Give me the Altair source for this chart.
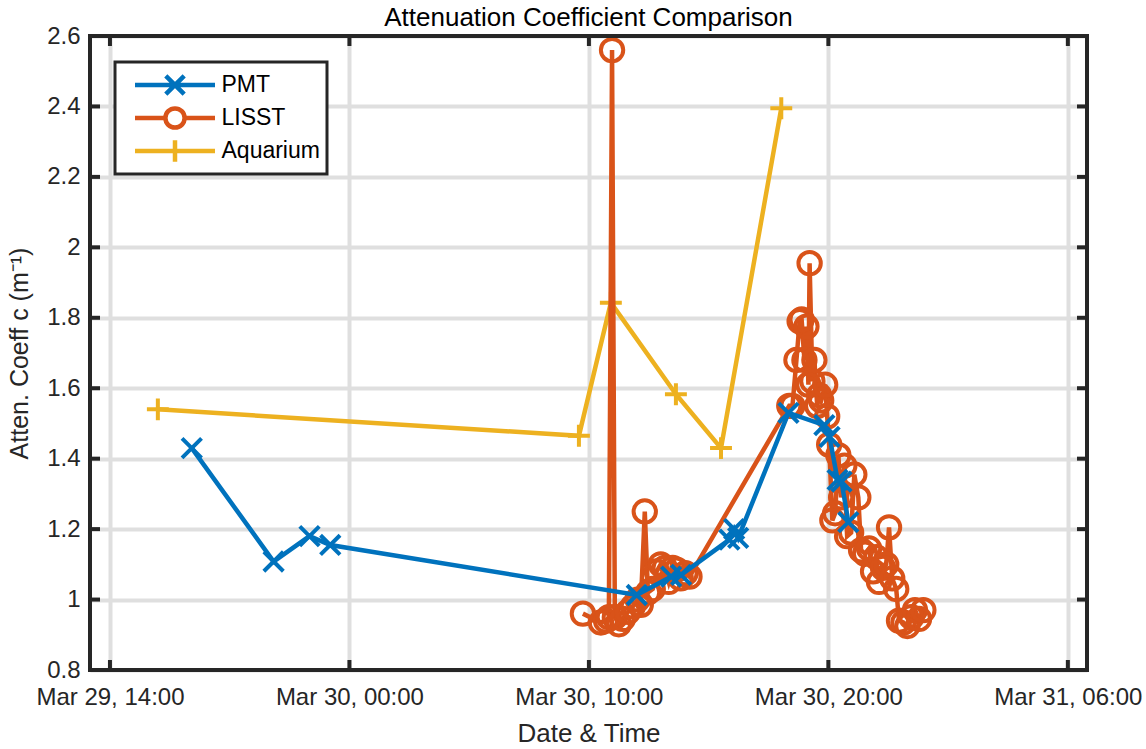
import altair as alt
import pandas as pd

# ---------------- data ----------------
pmt_time = [
    "2021-03-29T17:25", "2021-03-29T20:50", "2021-03-29T22:20", "2021-03-29T23:12",
    "2021-03-30T12:00", "2021-03-30T13:26", "2021-03-30T13:51",
    "2021-03-30T15:52", "2021-03-30T16:04", "2021-03-30T16:14",
    "2021-03-30T18:20", "2021-03-30T19:50", "2021-03-30T20:03",
    "2021-03-30T20:23", "2021-03-30T20:33", "2021-03-30T20:50",
]
pmt_value = [1.43, 1.108, 1.18, 1.155,
             1.013, 1.065, 1.07,
             1.17, 1.20, 1.175,
             1.53, 1.495, 1.462,
             1.34, 1.335, 1.22]

lisst_time = [
    "2021-03-30T09:45", "2021-03-30T10:30", "2021-03-30T10:43", "2021-03-30T10:50",
    "2021-03-30T10:58", "2021-03-30T11:05", "2021-03-30T11:15", "2021-03-30T11:25",
    "2021-03-30T11:38", "2021-03-30T11:50", "2021-03-30T12:02", "2021-03-30T12:10",
    "2021-03-30T12:20", "2021-03-30T12:28", "2021-03-30T12:40", "2021-03-30T12:50",
    "2021-03-30T13:00", "2021-03-30T13:10", "2021-03-30T13:20", "2021-03-30T13:30",
    "2021-03-30T13:40", "2021-03-30T13:50", "2021-03-30T14:02", "2021-03-30T14:12",
    "2021-03-30T18:22", "2021-03-30T18:30", "2021-03-30T18:40", "2021-03-30T18:48",
    "2021-03-30T18:53", "2021-03-30T19:00", "2021-03-30T19:05", "2021-03-30T19:10",
    "2021-03-30T19:13", "2021-03-30T19:20", "2021-03-30T19:25", "2021-03-30T19:32",
    "2021-03-30T19:37", "2021-03-30T19:42", "2021-03-30T19:52", "2021-03-30T19:57",
    "2021-03-30T20:02", "2021-03-30T20:10", "2021-03-30T20:17", "2021-03-30T20:25",
    "2021-03-30T20:32", "2021-03-30T20:40", "2021-03-30T20:47", "2021-03-30T20:57",
    "2021-03-30T21:05", "2021-03-30T21:15", "2021-03-30T21:22", "2021-03-30T21:32",
    "2021-03-30T21:42", "2021-03-30T21:52", "2021-03-30T22:00", "2021-03-30T22:07",
    "2021-03-30T22:17", "2021-03-30T22:25", "2021-03-30T22:32", "2021-03-30T22:40",
    "2021-03-30T22:50", "2021-03-30T22:57", "2021-03-30T23:08", "2021-03-30T23:18",
    "2021-03-30T23:28", "2021-03-30T23:37", "2021-03-30T23:47", "2021-03-30T23:58",
]
lisst_value = [
    0.96, 0.935, 0.94, 0.95,
    2.56, 0.95, 0.93, 0.945,
    0.965, 0.98, 1.00, 0.985,
    1.25, 1.02, 1.03, 1.08,
    1.10, 1.09, 1.05, 1.09,
    1.085, 1.06, 1.075, 1.065,
    1.55, 1.55, 1.68, 1.79,
    1.795, 1.68, 1.775, 1.61,
    1.955, 1.62, 1.68, 1.55,
    1.58, 1.565, 1.61, 1.52,
    1.44, 1.225, 1.245, 1.41,
    1.29, 1.38, 1.18, 1.19,
    1.355, 1.29, 1.14, 1.13,
    1.145, 1.08, 1.12, 1.05,
    1.09, 1.10, 1.205, 1.06,
    1.03, 0.94, 0.935, 0.925,
    0.95, 0.97, 0.945, 0.97,
]

aqua_time = ["2021-03-29T16:00", "2021-03-30T09:35", "2021-03-30T10:55",
             "2021-03-30T13:38", "2021-03-30T15:31", "2021-03-30T18:02"]
aqua_value = [1.54, 1.465, 1.843, 1.583, 1.43, 2.395]

series_names = ["PMT", "LISST", "Aquarium"]
series_colors = ["#0072BD", "#D95319", "#EDB120"]

y_ticks = [0.8, 1.0, 1.2, 1.4, 1.6, 1.8, 2.0, 2.2, 2.4, 2.6]
x_tick_times = ["2021-03-29T14:00", "2021-03-30T00:00", "2021-03-30T10:00",
                "2021-03-30T20:00", "2021-03-31T06:00"]

# ---------------- layout ----------------
W, H = 997, 634
FONT = "Liberation Sans"
TXT = "#262626"


def utc(s):
    return s + ":00Z"


def dt(s):
    d, t = s.split("T")
    y, mo, da = [int(v) for v in d.split("-")]
    hh, mm = [int(v) for v in t.split(":")]
    return alt.DateTime(year=y, month=mo, date=da, hours=hh, minutes=mm, utc=True)


frames = []
for name, ts, vs in [("PMT", pmt_time, pmt_value), ("LISST", lisst_time, lisst_value),
                     ("Aquarium", aqua_time, aqua_value)]:
    frames.append(pd.DataFrame({"time": [utc(t) for t in ts], "value": vs, "series": name}))
df = pd.concat(frames, ignore_index=True)

x_scale = alt.Scale(type="utc", domain=[dt("2021-03-29T13:10"), dt("2021-03-31T06:48")], nice=False)
y_scale = alt.Scale(domain=[0.8, 2.6], nice=False, zero=False)

x_axis = alt.Axis(values=[dt(t) for t in x_tick_times], format="%b %d, %H:%M",
                  title="Date & Time", grid=True, gridColor="#dfdfdf", gridWidth=4,
                  ticks=False, tickSize=0, domain=False, labelFontSize=24, labelColor=TXT,
                  labelFont=FONT, labelPadding=15, labelFlush=False,
                  titleFont=FONT, titleFontSize=26, titleFontWeight="normal", titleColor=TXT,
                  titlePadding=11)
y_axis = alt.Axis(values=y_ticks, format="~g", title="Atten. Coeff c (m\u207b\u00b9)",
                  grid=True, gridColor="#dfdfdf", gridWidth=4,
                  ticks=False, tickSize=0, domain=False, labelFontSize=24, labelColor=TXT,
                  labelFont=FONT, labelPadding=10,
                  titleFont=FONT, titleFontSize=25, titleFontWeight="normal", titleColor=TXT,
                  titlePadding=14)

X = alt.X("time:T", scale=x_scale, axis=x_axis)
Y = alt.Y("value:Q", scale=y_scale, axis=y_axis)

shape_paths = {
    "PMT": "M-1,-1L1,1M-1,1L1,-1",
    "LISST": "circle",
    "Aquarium": "M-1,0H1M0,-1V1",
}
shape_sizes = {"PMT": 380, "LISST": 500, "Aquarium": 480}

layers = []
for name in ["Aquarium", "LISST", "PMT"]:
    c = series_colors[series_names.index(name)]
    sub = df[df.series == name]
    base = alt.Chart(sub)
    layers.append(base.mark_line(color=c, strokeWidth=4.5).encode(
        x=X, y=Y, order=alt.Order("time:T")))
    layers.append(base.mark_point(shape=shape_paths[name], color=c, filled=False,
                                  strokeWidth=4, size=shape_sizes[name], opacity=1).encode(
        x=X, y=Y))

# legend-only layer
legend_paths = [
    "M-1,0H1M-0.23,-0.23L0.23,0.23M-0.23,0.23L0.23,-0.23",
    "M-1,0H-0.24M0.24,0H1M0.24,0A0.24,0.24 0 1,1 -0.24,0A0.24,0.24 0 1,1 0.24,0",
    "M-1,0H1M0,-0.27V0.27",
]
legend_layer = alt.Chart(df).mark_point(filled=False, opacity=0, strokeWidth=4).encode(
    x=X, y=Y,
    color=alt.Color("series:N", scale=alt.Scale(domain=series_names, range=series_colors),
                    legend=alt.Legend(title=None, orient="none", legendX=25, legendY=26,
                                      symbolSize=6400, symbolStrokeWidth=4.5, symbolOpacity=1,
                                      symbolOffset=11, clipHeight=33,
                                      labelFont=FONT, labelFontSize=23, labelColor="#000000",
                                      labelOffset=4, padding=6.5, rowPadding=0,
                                      fillColor="white", strokeColor=TXT)),
    shape=alt.Shape("series:N", scale=alt.Scale(domain=series_names, range=legend_paths)),
)
layers.append(legend_layer)

# inward tick marks (MATLAB style)
xt = pd.DataFrame({"time": [utc(t) for t in x_tick_times]})
yt = pd.DataFrame({"value": y_ticks})
tick_x = alt.X("time:T", scale=x_scale, axis=x_axis)
tick_y = alt.Y("value:Q", scale=y_scale, axis=y_axis)
layers.append(alt.Chart(xt).mark_tick(color=TXT, thickness=4, size=10, opacity=1).encode(
    x=tick_x, y=alt.value(H - 5)))
layers.append(alt.Chart(xt).mark_tick(color=TXT, thickness=4, size=10, opacity=1).encode(
    x=tick_x, y=alt.value(5)))
layers.append(alt.Chart(yt).mark_tick(color=TXT, thickness=4, size=10, opacity=1).encode(
    y=tick_y, x=alt.value(5)))
layers.append(alt.Chart(yt).mark_tick(color=TXT, thickness=4, size=10, opacity=1).encode(
    y=tick_y, x=alt.value(W - 5)))

# frame box
layers.append(alt.Chart(alt.Data(values=[{}])).mark_rect(
    fillOpacity=0, stroke=TXT, strokeWidth=4).encode(
    x=alt.value(0), x2=alt.value(W), y=alt.value(0), y2=alt.value(H)))

chart = alt.layer(*layers).properties(
    width=W, height=H,
    title=alt.Title("Attenuation Coefficient Comparison", font=FONT, fontSize=26,
                    fontWeight="normal", color="#000000", anchor="middle", offset=6, dy=13),
    autosize=alt.AutoSizeParams(type="none"),
    padding={"left": 90, "top": 36, "right": 59, "bottom": 79},
).configure_view(stroke=None).configure_legend(strokeWidth=3)

chart.save("out.html", embed_options={"renderer": "svg", "actions": False})
